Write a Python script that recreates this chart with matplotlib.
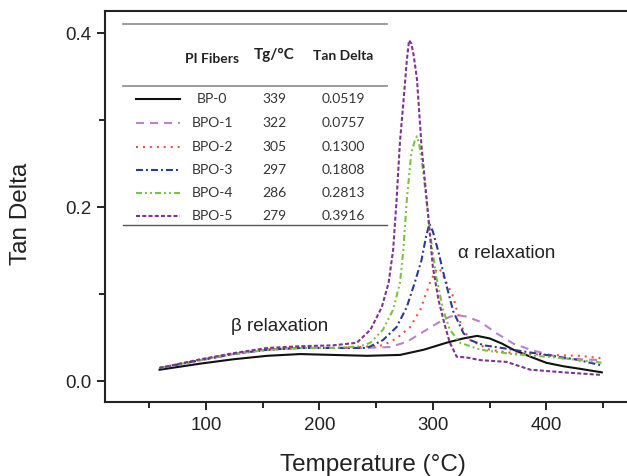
import matplotlib
matplotlib.use("Agg")
import matplotlib.pyplot as plt
from matplotlib.ticker import MultipleLocator

plt.rcParams['font.family'] = ['Liberation Sans', 'DejaVu Sans']
plt.rcParams['lines.scale_dashes'] = False

# DMA tan delta curves, temperature in degC
t_bp0 = [59, 95, 124, 154, 183, 212, 242, 271, 292, 312, 327, 339, 350, 361, 371, 386, 400, 415, 430, 449]
v_bp0 = [0.013, 0.020, 0.025, 0.029, 0.031, 0.030, 0.029, 0.030, 0.036, 0.044, 0.049, 0.0519,
         0.049, 0.043, 0.036, 0.028, 0.021, 0.017, 0.014, 0.010]

t_bpo1 = [59, 95, 124, 154, 183, 212, 236, 262, 277, 292, 306, 315, 322, 330, 336, 342, 356, 371, 386, 415, 449]
v_bpo1 = [0.015, 0.024, 0.031, 0.036, 0.038, 0.038, 0.038, 0.039, 0.045, 0.057, 0.068, 0.074, 0.0757,
          0.074, 0.071, 0.068, 0.055, 0.043, 0.036, 0.026, 0.024]

t_bpo2 = [59, 95, 124, 154, 183, 212, 236, 256, 268, 280, 289, 293, 297.5, 302, 305, 308, 312, 318,
          321, 325.5, 333, 350, 371, 400, 430, 449]
v_bpo2 = [0.015, 0.024, 0.031, 0.036, 0.038, 0.038, 0.039, 0.041, 0.049, 0.062, 0.082, 0.097, 0.113,
          0.126, 0.1300, 0.125, 0.113, 0.097, 0.082, 0.062, 0.047, 0.036, 0.032, 0.030, 0.029, 0.026]

t_bpo3 = [59, 95, 124, 154, 183, 212, 242, 256, 268, 277, 284, 290, 294, 297, 300, 305, 311, 318, 327,
          333, 345, 356, 380, 400, 425, 449]
v_bpo3 = [0.015, 0.024, 0.031, 0.036, 0.038, 0.038, 0.038, 0.047, 0.062, 0.085, 0.113, 0.139, 0.166,
          0.1808, 0.172, 0.148, 0.115, 0.080, 0.055, 0.047, 0.041, 0.039, 0.034, 0.030, 0.025, 0.018]

t_bpo4 = [59, 95, 124, 154, 183, 212, 236, 245, 256, 265, 271, 274, 277, 281, 284, 286, 288, 290, 292,
          297.5, 303, 309, 315, 324, 342, 370, 400, 430, 449]
v_bpo4 = [0.015, 0.024, 0.031, 0.036, 0.038, 0.038, 0.040, 0.044, 0.059, 0.082, 0.113, 0.151, 0.208,
          0.262, 0.276, 0.2813, 0.272, 0.255, 0.235, 0.170, 0.120, 0.082, 0.059, 0.044, 0.036, 0.031,
          0.028, 0.024, 0.021]

t_bpo5 = [59, 95, 124, 154, 183, 212, 233, 245, 255, 261, 265, 268, 271, 274, 277, 279, 281, 283, 286,
          290, 296, 300, 305, 311, 315, 321, 330, 342, 365, 386, 415, 449]
v_bpo5 = [0.015, 0.025, 0.032, 0.038, 0.040, 0.041, 0.044, 0.059, 0.085, 0.113, 0.151, 0.208, 0.275,
          0.320, 0.368, 0.3916, 0.388, 0.375, 0.347, 0.270, 0.189, 0.131, 0.093, 0.062, 0.044, 0.028,
          0.027, 0.024, 0.022, 0.013, 0.010, 0.007]

names = ['BP-0', 'BPO-1', 'BPO-2', 'BPO-3', 'BPO-4', 'BPO-5']
tg = [339, 322, 305, 297, 286, 279]
tan_delta = ['0.0519', '0.0757', '0.1300', '0.1808', '0.2813', '0.3916']

temps = [t_bp0, t_bpo1, t_bpo2, t_bpo3, t_bpo4, t_bpo5]
values = [v_bp0, v_bpo1, v_bpo2, v_bpo3, v_bpo4, v_bpo5]
colors = ['#111111', '#b884c8', '#ee4d3a', '#2b3a92', '#7cc242', '#7c3592']
dashes = [None, (5.8, 4.3), (1.4, 3.6), (5.0, 2.2, 1.4, 2.2), (4.3, 2.2, 1.4, 2.2, 1.4, 2.2), (2.9, 1.6)]

fig = plt.figure(figsize=(6.27, 4.76), dpi=100)
ax = fig.add_axes([105 / 627, 74 / 476, 522 / 627, 391 / 476])

for t, v, c, d in zip(temps, values, colors, dashes):
    line, = ax.plot(t, v, color=c, lw=1.5)
    if d is not None:
        line.set_dashes(d)

ax.set_xlim(10.9, 471.2)
ax.set_ylim(-0.0241, 0.4253)
ax.xaxis.set_major_locator(MultipleLocator(100))
ax.xaxis.set_minor_locator(MultipleLocator(50))
ax.yaxis.set_major_locator(MultipleLocator(0.2))
ax.yaxis.set_minor_locator(MultipleLocator(0.1))
ax.yaxis.set_major_formatter(lambda y, pos: f'{y:.1f}')
ax.tick_params(which='major', direction='out', length=6, width=1.2, labelsize=13.5, pad=4,
               labelcolor='#222222')
ax.tick_params(axis='x', which='major', pad=5)
ax.tick_params(which='minor', direction='out', length=4, width=1.2)
ax.tick_params(top=False, right=False, which='both')

for s in ['left', 'bottom', 'top']:
    ax.spines[s].set_linewidth(1.5)
    ax.spines[s].set_color('#222222')
ax.spines['right'].set_visible(False)

ax.set_xlabel('Temperature (°C)', fontsize=17.5, color='#222222')
ax.set_ylabel('Tan Delta', fontsize=17.5, color='#222222')
ax.xaxis.set_label_coords(0.5125, -0.133)
ax.yaxis.set_label_coords(-0.14, 0.481)

ax.text(165, 0.063, 'β relaxation', fontsize=13.5, ha='center', va='center', color='#222222')
ax.text(365, 0.147, 'α relaxation', fontsize=13.5, ha='center', va='center', color='#222222')

# inset table with legend samples
tr = ax.transAxes
tfont = ['Lato', 'DejaVu Sans']
x0, x1 = 0.0345, 0.5402
ax.plot([x0, x1], [0.9668, 0.9668], transform=tr, color='#8a8a8a', lw=1.2)
ax.plot([x0, x1], [0.8082, 0.8082], transform=tr, color='#8a8a8a', lw=1.2)
ax.plot([x0, x1], [0.4527, 0.4527], transform=tr, color='#555555', lw=1.0)

ax.text(0.2044, 0.876, 'PI Fibers', transform=tr, ha='center', va='center',
        fontsize=10, fontweight='bold', family=tfont, color='#222222')
ax.text(0.324, 0.888, 'Tg/°C', transform=tr, ha='center', va='center',
        fontsize=11, fontweight='bold', family=tfont, color='#222222')
ax.text(0.4553, 0.884, 'Tan Delta', transform=tr, ha='center', va='center',
        fontsize=10, fontweight='bold', family=tfont, color='#222222')

row_y = [0.775, 0.714, 0.652, 0.593, 0.535, 0.476]
for i, y in enumerate(row_y):
    sample, = ax.plot([0.0594, 0.1437], [y, y], transform=tr, color=colors[i], lw=1.5)
    if dashes[i] is not None:
        sample.set_dashes(dashes[i])
    ax.text(0.205, y, names[i], transform=tr, ha='center', va='center', fontsize=10,
            family=tfont, color='#333333')
    ax.text(0.3238, y, str(tg[i]), transform=tr, ha='center', va='center', fontsize=10,
            family=tfont, color='#333333')
    ax.text(0.4559, y, tan_delta[i], transform=tr, ha='center', va='center', fontsize=10,
            family=tfont, color='#333333')

fig.savefig('out.png', dpi=100)
